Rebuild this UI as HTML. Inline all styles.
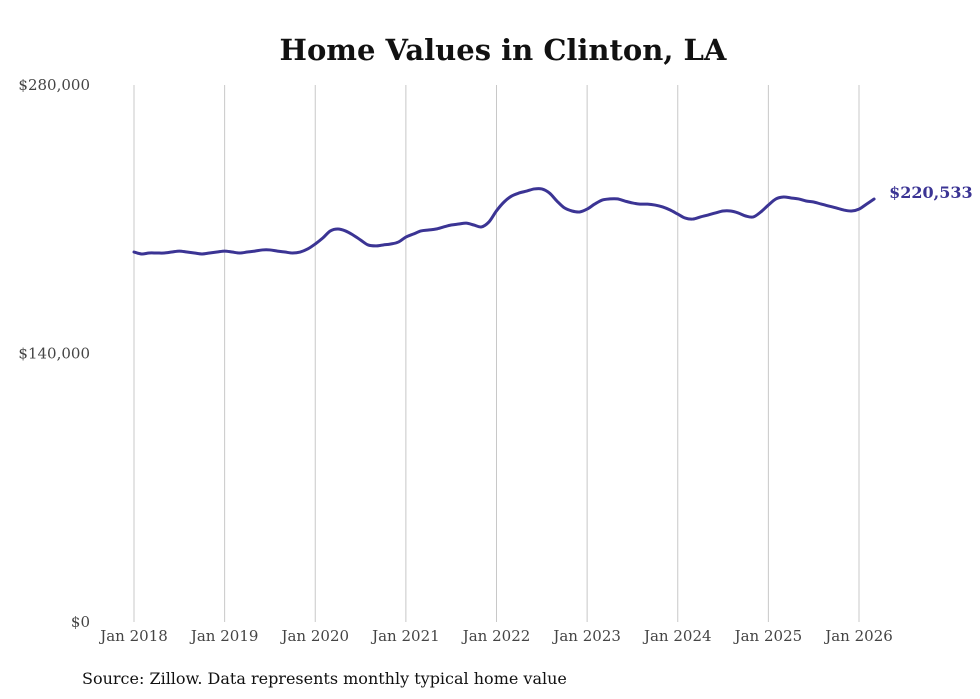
<!DOCTYPE html>
<html><head><meta charset="utf-8"><style>
html,body{margin:0;padding:0;background:#fff;}
svg{display:block;font-family:"DejaVu Serif","Liberation Serif",serif;}
</style></head><body>
<svg id="chart" width="980" height="699" viewBox="0 0 980 699" xmlns="http://www.w3.org/2000/svg">
<rect width="980" height="699" fill="#fff"/>
<text x="503" y="60" text-anchor="middle" font-size="29" font-weight="bold" fill="#111">Home Values in Clinton, LA</text>
<g id="grid"></g>
<g id="yaxis"></g>
<g id="xaxis"></g>
<g id="series"></g>
<text x="82" y="684" font-size="16" fill="#111">Source: Zillow. Data represents monthly typical home value</text>
</svg>
<script>
const yTicks = [0, 140000, 280000];
const yTickLabels = ["$0", "$140,000", "$280,000"];
const xTickYears = [2018, 2019, 2020, 2021, 2022, 2023, 2024, 2025, 2026];
const xTickLabels = ["Jan 2018","Jan 2019","Jan 2020","Jan 2021","Jan 2022","Jan 2023","Jan 2024","Jan 2025","Jan 2026"];
const startYear = 2018;
const values2018 = [192900,191900,192400,192400,192400,192900,193400,192900,192400,191900,192400,192900];
const values2019 = [193400,192900,192400,192900,193400,194000,194000,193400,192900,192400,192900,194500];
const values2020 = [197100,200200,203900,204900,203900,201800,199200,196600,196100,196600,197100,198100];
const values2021 = [200700,202300,203900,204400,204900,206000,207000,207500,208000,207000,206000,208600];
const values2022 = [214400,219000,222100,223700,224700,225800,225800,223700,219500,215900,214300,213800];
const values2023 = [215300,217900,220000,220600,220600,219500,218500,217900,217900,217400,216400,214800];
const values2024 = [212700,210600,210100,211200,212200,213300,214300,214300,213300,211700,211200,213800];
const values2025 = [217400,220600,221600,221100,220600,219500,219000,217900,216900,215900,214800,214300];
const values2026 = [215300,217900,220533];
const lastLabel = "$220,533";

const values = [].concat(values2018,values2019,values2020,values2021,values2022,values2023,values2024,values2025,values2026);
const NS = "http://www.w3.org/2000/svg";
const x0 = 134, pxPerMonth = (859-134)/96;
const yBase = 622, yTop = 85, yMax = 280000;
function xScale(i){ return x0 + i*pxPerMonth; }
function yScale(v){ return yBase - v/yMax*(yBase-yTop); }
function mk(tag, attrs, parent){ const e=document.createElementNS(NS,tag); for(const k in attrs) e.setAttribute(k,attrs[k]); parent.appendChild(e); return e; }

const grid=document.getElementById('grid'), xa=document.getElementById('xaxis'), ya=document.getElementById('yaxis'), se=document.getElementById('series');
xTickYears.forEach((yr,k)=>{
  const x = xScale((yr-startYear)*12);
  const l = mk('line',{x1:x,x2:x,y1:yTop,y2:yBase,stroke:'#c8c8c8','stroke-width':1},grid);
  
  
  const t = mk('text',{x:x,y:641,'text-anchor':'middle','font-size':15,fill:'#444'},xa);
  t.textContent = xTickLabels[k];
  
  
});
yTicks.forEach((v,k)=>{
  const t = mk('text',{x:90,y:yScale(v)+5,'text-anchor':'end','font-size':15,fill:'#444'},ya);
  t.textContent = yTickLabels[k];
  
  
});
const pts = values.map((v,i)=>[xScale(i), yScale(v)]);
let d = 'M'+pts[0][0].toFixed(2)+','+pts[0][1].toFixed(2);
for(let i=0;i<pts.length-1;i++){
  const p0=pts[Math.max(0,i-1)], p1=pts[i], p2=pts[i+1], p3=pts[Math.min(pts.length-1,i+2)];
  const c1x=p1[0]+(p2[0]-p0[0])/6, c1y=p1[1]+(p2[1]-p0[1])/6;
  const c2x=p2[0]-(p3[0]-p1[0])/6, c2y=p2[1]-(p3[1]-p1[1])/6;
  d += 'C'+c1x.toFixed(2)+','+c1y.toFixed(2)+' '+c2x.toFixed(2)+','+c2y.toFixed(2)+' '+p2[0].toFixed(2)+','+p2[1].toFixed(2);
}
const p = mk('path',{d:d,fill:'none',stroke:'#3b3494','stroke-width':3,'stroke-linejoin':'round','stroke-linecap':'round'},se);


const li = values.length-1;
const lt = mk('text',{x:xScale(li)+15,y:yScale(values[li])-1,'font-size':16,'font-weight':'bold',fill:'#3b3494'},se);
lt.textContent = lastLabel;


</script>
</body></html>
